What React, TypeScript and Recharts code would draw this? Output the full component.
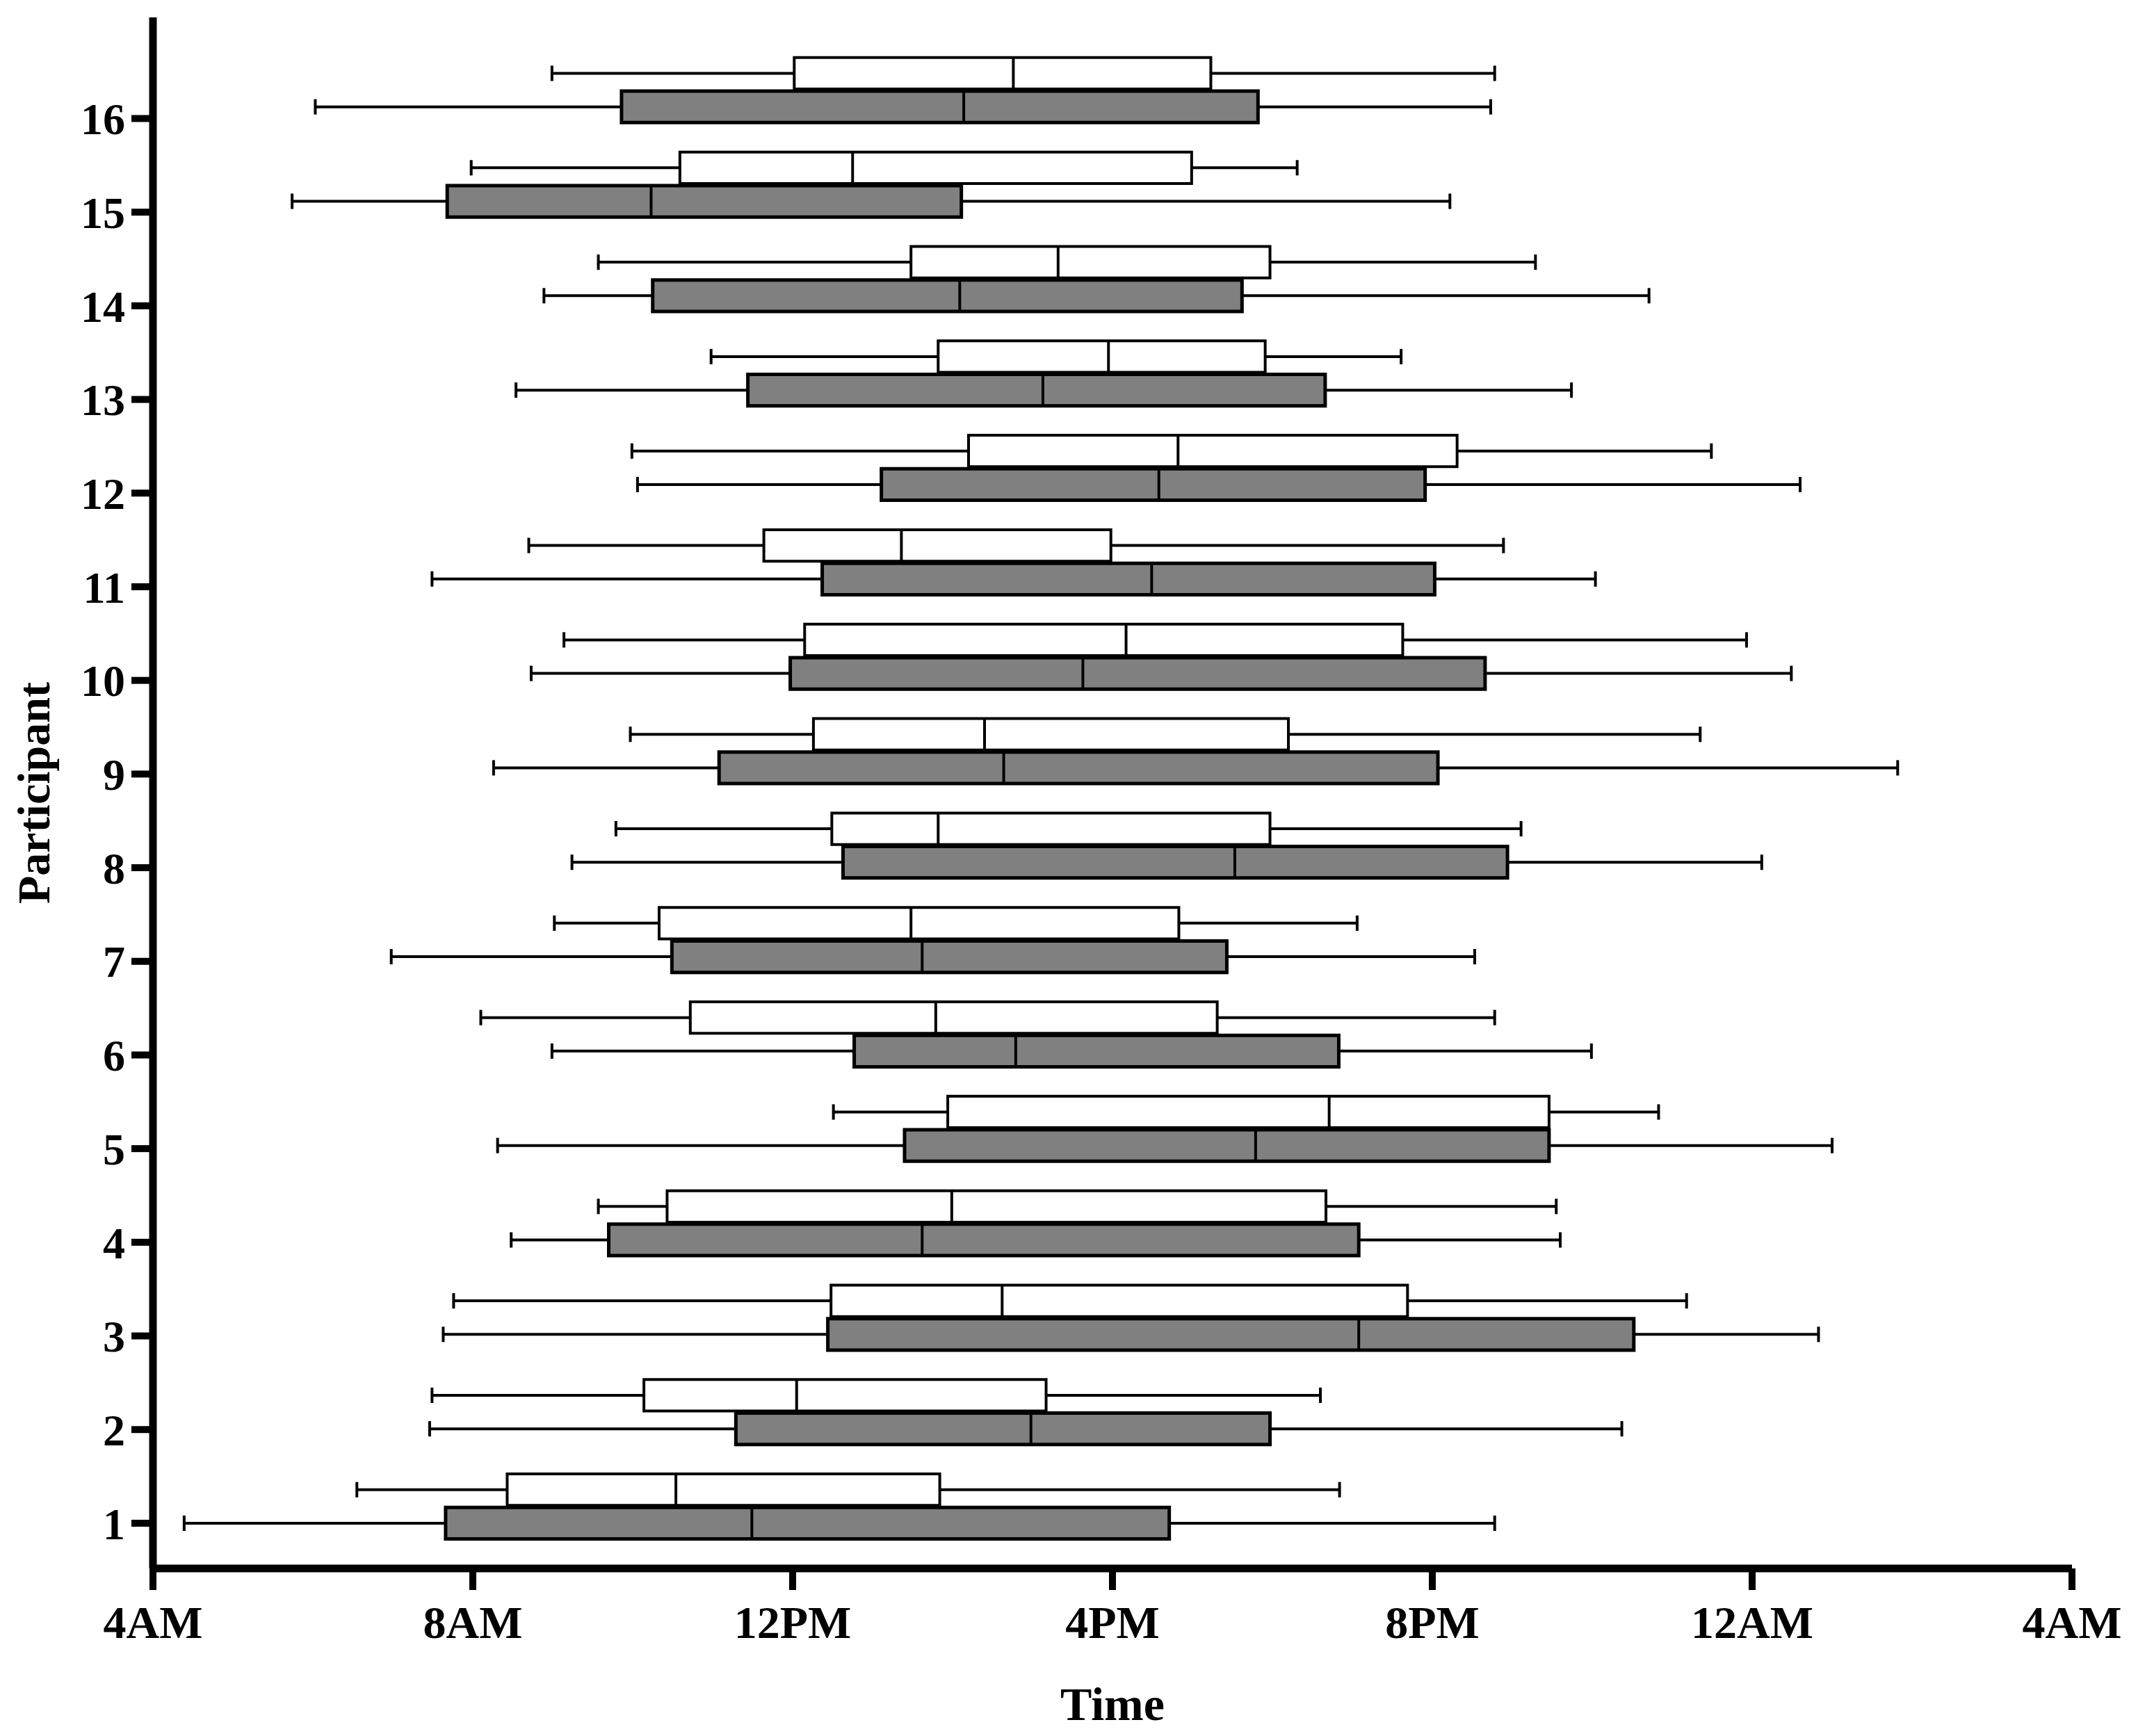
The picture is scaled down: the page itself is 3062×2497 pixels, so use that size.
import React from 'react';
import { ComposedChart, XAxis, YAxis, Scatter, ReferenceArea, ReferenceLine } from 'recharts';

// participants 1..16, times in hours since midnight (24+ = next day)
const participants = [1, 2, 3, 4, 5, 6, 7, 8, 9, 10, 11, 12, 13, 14, 15, 16];
const timeTicks = [4, 8, 12, 16, 20, 24, 28];
const timeLabels = ['4AM', '8AM', '12PM', '4PM', '8PM', '12AM', '4AM'];

// lower (grey) box
const grayMin = [4.39, 7.46, 7.63, 8.48, 8.31, 8.99, 6.98, 9.24, 8.26, 8.73, 7.49, 10.06, 8.54, 8.89, 5.74, 6.03];
const grayQ1 = [7.66, 11.29, 12.44, 9.7, 13.4, 12.77, 10.49, 12.63, 11.08, 11.97, 12.37, 13.11, 11.44, 10.25, 7.68, 9.86];
const grayMed = [11.49, 14.98, 19.08, 13.62, 17.79, 14.79, 13.62, 17.53, 14.64, 15.63, 16.49, 16.58, 15.13, 14.09, 10.23, 14.14];
const grayQ3 = [16.71, 17.97, 22.52, 19.08, 21.46, 18.83, 17.43, 20.94, 20.07, 20.66, 20.03, 19.91, 18.66, 17.62, 14.11, 17.82];
const grayMax = [20.78, 22.37, 24.83, 21.6, 25.0, 21.99, 20.53, 24.12, 25.82, 24.49, 22.04, 24.6, 21.74, 22.71, 20.22, 20.73];

// upper (white) box
const whiteMin = [6.55, 7.49, 7.76, 9.57, 12.51, 8.1, 9.02, 9.79, 9.97, 9.14, 8.7, 9.99, 10.98, 9.57, 7.98, 8.99];
const whiteQ1 = [8.43, 10.14, 12.48, 10.43, 13.94, 10.72, 10.33, 12.49, 12.26, 12.15, 11.64, 14.2, 13.82, 13.48, 10.59, 12.02];
const whiteMed = [10.54, 12.05, 14.62, 13.99, 18.71, 13.79, 13.48, 13.82, 14.4, 16.17, 13.36, 16.82, 15.95, 15.32, 12.75, 14.76];
const whiteQ3 = [13.84, 15.17, 19.69, 18.67, 21.46, 17.31, 16.83, 17.97, 18.2, 19.63, 15.98, 20.31, 17.91, 17.97, 16.99, 17.23];
const whiteMax = [18.84, 18.6, 23.18, 21.55, 22.83, 20.78, 19.06, 21.11, 23.35, 23.93, 20.89, 23.49, 19.61, 21.29, 18.31, 20.78];

const font = "'Liberation Serif', 'DejaVu Serif', serif";

const grayRows = participants.map((p, i) => ({
  p,
  min: grayMin[i],
  q1: grayQ1[i],
  med: grayMed[i],
  q3: grayQ3[i],
  max: grayMax[i],
}));

const whiteRows = participants.map((p, i) => ({
  p,
  min: whiteMin[i],
  q1: whiteQ1[i],
  med: whiteMed[i],
  q3: whiteQ3[i],
  max: whiteMax[i],
}));

const HALF = 0.168; // half box height (participant units)
const CAP = 0.082; // half whisker cap height
const UPPER_SHIFT = 0.358;
// the boxes sit on a slightly wider pitch than the tick marks
const rowY = (p: number) => p + (p - 1) * 0.0083;

function boxPlot(row: any, y: number, fill: string, sw: number, key: string) {
  return [
    <ReferenceLine key={key + 'wl'} segment={[{ x: row.min, y }, { x: row.q1, y }]} stroke="#000" strokeWidth={4} />,
    <ReferenceLine key={key + 'wr'} segment={[{ x: row.q3, y }, { x: row.max, y }]} stroke="#000" strokeWidth={4} />,
    <ReferenceLine key={key + 'cl'} segment={[{ x: row.min, y: y - CAP }, { x: row.min, y: y + CAP }]} stroke="#000" strokeWidth={4} />,
    <ReferenceLine key={key + 'cr'} segment={[{ x: row.max, y: y - CAP }, { x: row.max, y: y + CAP }]} stroke="#000" strokeWidth={4} />,
    <ReferenceArea
      key={key + 'b'}
      x1={row.q1}
      x2={row.q3}
      y1={y - HALF}
      y2={y + HALF}
      fill={fill}
      fillOpacity={1}
      stroke="#000"
      strokeWidth={sw}
    />,
    <ReferenceLine key={key + 'm'} segment={[{ x: row.med, y: y - HALF }, { x: row.med, y: y + HALF }]} stroke="#000" strokeWidth={4} />,
  ];
}

const tickStyle = { fill: '#000', fontSize: 64, fontWeight: 'bold', fontFamily: font };

export default function App() {
  return (
    <div style={{ width: 3046, height: 2481, background: '#fff' }}>
      <ComposedChart width={3046} height={2481} margin={{ top: 17, right: 74, left: 62, bottom: 113 }}>
        <XAxis
          type="number"
          dataKey="med"
          domain={[4, 28]}
          ticks={timeTicks}
          interval={0}
          allowDataOverflow
          tickFormatter={(v: number) => timeLabels[timeTicks.indexOf(v)]}
          tick={{ ...tickStyle, fontSize: 66 }}
          tickSize={31}
          tickMargin={22}
          tickLine={{ stroke: '#000', strokeWidth: 10 }}
          axisLine={{ stroke: '#000', strokeWidth: 11 }}
          height={120}
          label={{
            content: (props: any) => {
              const vb = props.viewBox || {};
              return (
                <text
                  x={vb.x + vb.width / 2}
                  y={2442}
                  dy="0.35em"
                  textAnchor="middle"
                  fontSize={68}
                  fontWeight="bold"
                  fontFamily={font}
                  fill="#000"
                >
                  Time
                </text>
              );
            },
          }}
        />
        <YAxis
          type="number"
          dataKey="p"
          domain={[0.517, 17.08]}
          ticks={participants}
          interval={0}
          allowDataOverflow
          tick={tickStyle}
          tickSize={31}
          tickMargin={9}
          tickLine={{ stroke: '#000', strokeWidth: 10 }}
          axisLine={{ stroke: '#000', strokeWidth: 11 }}
          width={150}
          label={{
            content: (props: any) => {
              const vb = props.viewBox || {};
              const cx = 40;
              const cy = vb.y + vb.height / 2;
              return (
                <text
                  x={cx}
                  y={cy}
                  dy="0.35em"
                  textAnchor="middle"
                  transform={`rotate(-90, ${cx}, ${cy})`}
                  fontSize={66}
                  fontWeight="bold"
                  fontFamily={font}
                  fill="#000"
                >
                  Participant
                </text>
              );
            },
          }}
        />
        <Scatter data={grayRows} dataKey="p" isAnimationActive={false} shape={() => <g />} />
        {whiteRows.map((r) => boxPlot(r, rowY(r.p) + UPPER_SHIFT, '#ffffff', 4, 'w' + r.p))}
        {grayRows.map((r) => boxPlot(r, rowY(r.p), '#808080', 5, 'g' + r.p))}
      </ComposedChart>
    </div>
  );
}
